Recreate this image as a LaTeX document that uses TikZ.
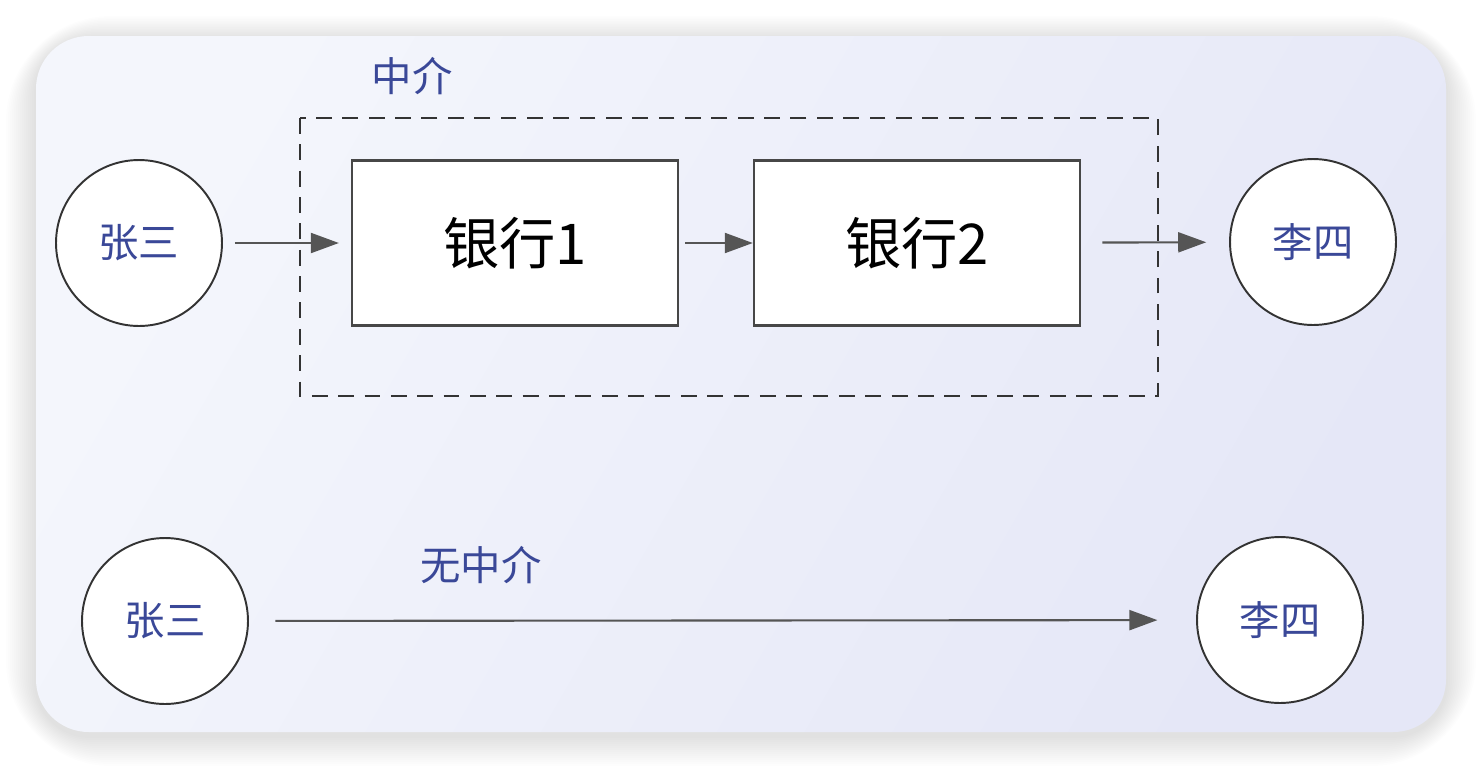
\documentclass[tikz,border=0pt]{standalone}
\usepackage{fontspec}
\setmainfont{Noto Sans CJK SC}
\usepackage{xcolor}
\usepackage{tikz}
\usetikzlibrary{arrows.meta, positioning, calc}

\definecolor{cardtop}{HTML}{F4F6FC}
\definecolor{cardbot}{HTML}{E5E7F7}
\definecolor{labelblue}{HTML}{3A4898}
\definecolor{edgegray}{HTML}{333333}
\definecolor{arrowgray}{HTML}{555555}

\tikzset{
  person/.style={circle,draw=edgegray,line width=1.1pt,fill=white,minimum size=3.32cm,text=labelblue,font=\fontsize{23}{23}\selectfont},
  bank/.style={rectangle,draw=edgegray!90,line width=1.4pt,fill=white,minimum width=6.52cm,minimum height=3.3cm,font=\fontsize{32}{32}\selectfont},
  flow/.style={draw=arrowgray,line width=1.2pt,-{Triangle[length=0.56cm,width=0.4cm]}},
  tag/.style={text=labelblue,font=\fontsize{23}{23}\selectfont}
}

\begin{document}
\begin{tikzpicture}[x=0.02cm,y=-0.02cm]
    \useasboundingbox (0,0) rectangle (1482,768);
    % shadow and card
    \foreach \s in {2,4,...,30}
      \fill[black,opacity=0.009,rounded corners=30+\s] (36-\s,40-0.8*\s) rectangle (1446+\s,736+\s);
    \shade[rounded corners=30,top color=cardtop,bottom color=cardbot,shading angle=60] (36,36) rectangle (1446,732);

    % mit Vermittler
    \node[tag] (lblmid) at (412,76) {中介};
    \draw[edgegray,line width=1.1pt,dash pattern=on 9pt off 6pt] (300,118) rectangle (1158,396);
    \node[person] (zs1) at (139,243) {张三};
    \node[bank] (b1) at (515,243) {银行1};
    \node[bank] (b2) at (917,243) {银行2};
    \node[person] (ls1) at (1313,242) {李四};
    \draw[flow,shorten <=6.8pt,shorten >=6.8pt] (zs1) -- (b1);
    \draw[flow,shorten <=3.5pt] (b1) -- (b2);
    \draw[flow,shorten <=12pt,shorten >=13pt] (b2) -- (ls1);

    % ohne Vermittler
    \node[tag] (lblnone) at (481,565) {无中介};
    \node[person] (zs2) at (165,621) {张三};
    \node[person] (ls2) at (1280,620) {李四};
    \draw[flow,shorten <=15pt,shorten >=22pt] (zs2) -- (ls2);
\end{tikzpicture}
\end{document}
